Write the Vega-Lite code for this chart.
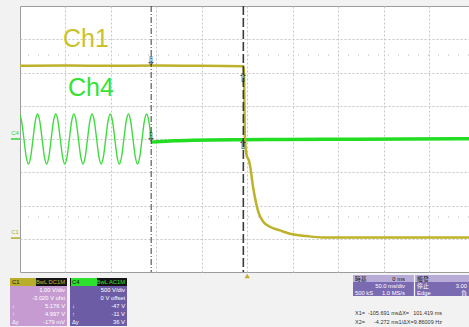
{
  "$schema": "https://vega.github.io/schema/vega-lite/v6.json",
  "width": 449,
  "height": 266,
  "autosize": {"type": "none"},
  "padding": {"left": 20, "top": 6, "right": 0, "bottom": 55},
  "background": "#f2f2f2",
  "config": {"view": {"fill": "#ffffff", "stroke": "#9c9c9c", "strokeWidth": 1}, "font": "Liberation Sans"},
  "datasets": {
    "ch1": [
      {"t": -250, "v": 5.18}, {"t": -200, "v": 5.19}, {"t": -150, "v": 5.18}, {"t": -100, "v": 5.19},
      {"t": -50, "v": 5.18}, {"t": -3.8, "v": 5.17}, {"t": -2.5, "v": 3.0}, {"t": -0.6, "v": 2.48},
      {"t": 1.9, "v": 2.33}, {"t": 3.0, "v": 2.19}, {"t": 6.7, "v": 1.49}, {"t": 12.2, "v": 0.79},
      {"t": 17.7, "v": 0.49}, {"t": 25, "v": 0.34}, {"t": 36, "v": 0.23}, {"t": 47, "v": 0.13},
      {"t": 65.4, "v": 0.06}, {"t": 83.3, "v": 0.02}, {"t": 150, "v": 0.02}, {"t": 244, "v": 0.02}
    ],
    "ch4ac": [
      {"t": -250.7, "v": 375}, {"t": -248.2, "v": 265}, {"t": -245.7, "v": 0}, {"t": -243.2, "v": -265},
      {"t": -240.7, "v": -375}, {"t": -238.2, "v": -265}, {"t": -235.7, "v": 0}, {"t": -233.2, "v": 265},
      {"t": -230.7, "v": 375}, {"t": -228.2, "v": 265}, {"t": -225.7, "v": 0}, {"t": -223.2, "v": -265},
      {"t": -220.7, "v": -375}, {"t": -218.2, "v": -265}, {"t": -215.7, "v": 0}, {"t": -213.2, "v": 265},
      {"t": -210.7, "v": 375}, {"t": -208.2, "v": 265}, {"t": -205.7, "v": 0}, {"t": -203.2, "v": -265},
      {"t": -200.7, "v": -375}, {"t": -198.2, "v": -265}, {"t": -195.7, "v": 0}, {"t": -193.2, "v": 265},
      {"t": -190.7, "v": 375}, {"t": -188.2, "v": 265}, {"t": -185.7, "v": 0}, {"t": -183.2, "v": -265},
      {"t": -180.7, "v": -375}, {"t": -178.2, "v": -265}, {"t": -175.7, "v": 0}, {"t": -173.2, "v": 265},
      {"t": -170.7, "v": 375}, {"t": -168.2, "v": 265}, {"t": -165.7, "v": 0}, {"t": -163.2, "v": -265},
      {"t": -160.7, "v": -375}, {"t": -158.2, "v": -265}, {"t": -155.7, "v": 0}, {"t": -153.2, "v": 265},
      {"t": -150.7, "v": 375}, {"t": -148.2, "v": 265}, {"t": -145.7, "v": 0}, {"t": -143.2, "v": -265},
      {"t": -140.7, "v": -375}, {"t": -138.2, "v": -265}, {"t": -135.7, "v": 0}, {"t": -133.2, "v": 265},
      {"t": -130.7, "v": 375}, {"t": -128.2, "v": 265}, {"t": -125.7, "v": 0}, {"t": -123.2, "v": -265},
      {"t": -120.7, "v": -375}, {"t": -118.2, "v": -265}, {"t": -115.7, "v": 0}, {"t": -113.2, "v": 265},
      {"t": -110.7, "v": 375}, {"t": -108.2, "v": 265}, {"t": -105.7, "v": 0}
    ],
    "ch4off": [
      {"t": -105.7, "v": -47}, {"t": -95, "v": -38}, {"t": -80, "v": -28}, {"t": -60, "v": -20},
      {"t": -40, "v": -15}, {"t": -4.3, "v": -11}, {"t": 40, "v": -6}, {"t": 120, "v": -2}, {"t": 244, "v": 5}
    ],
    "cursors": [{"cursor": "X1", "t": -105.691}, {"cursor": "X2", "t": -4.272}],
    "chan": [
      {"box": "C1", "row": "0", "part": "C1 head", "left": "C1", "right": "BwL DC1M"},
      {"box": "C1", "row": "1", "part": "C1 body", "left": "", "right": "1.00 V/div"},
      {"box": "C1", "row": "2", "part": "C1 body", "left": "", "right": "-3.020 V ofst"},
      {"box": "C1", "row": "3", "part": "C1 body", "left": "↓", "right": "5.176 V"},
      {"box": "C1", "row": "4", "part": "C1 body", "left": "↑", "right": "4.997 V"},
      {"box": "C1", "row": "5", "part": "C1 body", "left": "Δy", "right": "-179 mV"},
      {"box": "C4", "row": "0", "part": "C4 head", "left": "C4", "right": "BwL AC1M"},
      {"box": "C4", "row": "1", "part": "C4 body", "left": "", "right": "500 V/div"},
      {"box": "C4", "row": "2", "part": "C4 body", "left": "", "right": "0 V offset"},
      {"box": "C4", "row": "3", "part": "C4 body", "left": "↓", "right": "-47 V"},
      {"box": "C4", "row": "4", "part": "C4 body", "left": "↑", "right": "-11 V"},
      {"box": "C4", "row": "5", "part": "C4 body", "left": "Δy", "right": "36 V"}
    ],
    "timebox": [
      {"box": "時基", "row": "0", "part": "head", "left": "時基", "right": "0 ms"},
      {"box": "時基", "row": "1", "part": "body", "left": "", "right": "50.0 ms/div"},
      {"box": "時基", "row": "2", "part": "body", "left": "500 kS", "right": "1.0 MS/s"},
      {"box": "觸發", "row": "0", "part": "head", "left": "觸發", "right": ""},
      {"box": "觸發", "row": "1", "part": "body", "left": "停止", "right": "3.00"},
      {"box": "觸發", "row": "2", "part": "body", "left": "Edge", "right": "負"}
    ],
    "xread": [
      {"col": "X", "row": "1", "left": "X1=", "right": "-105.691 ms"},
      {"col": "ΔX", "row": "1", "left": "ΔX=", "right": "101.419 ms"},
      {"col": "X", "row": "2", "left": "X2=", "right": "-4.272 ms"},
      {"col": "ΔX", "row": "2", "left": "1/ΔX=", "right": "9.86009 Hz"}
    ]
  },
  "data": {"values": [{}]},
  "layer": [
    {
      "data": {"name": "ch4off"},
      "mark": {"type": "line", "color": "#22dd22", "strokeWidth": 3.5, "interpolate": "monotone"},
      "encoding": {
        "x": {"field": "t", "type": "quantitative", "scale": {"domain": [-250, 244], "nice": false, "zero": false},
              "axis": {"values": [-200, -150, -100, -50, 0, 50, 100, 150, 200], "grid": true, "gridColor": "#c6c6c6", "gridDash": [2, 2], "gridWidth": 1, "labels": false, "ticks": false, "domain": false, "title": null}},
        "y": {"field": "v", "type": "quantitative", "scale": {"domain": [-2000, 2000], "nice": false, "zero": false},
              "axis": {"orient": "left", "values": [-1500, -1000, -500, 0, 500, 1000, 1500], "grid": true, "gridColor": "#c6c6c6", "gridDash": [2, 2], "gridWidth": 1, "labels": false, "ticks": false, "domain": false, "title": null}}
      }
    },
    {
      "mark": {"type": "rule", "color": "#b5b5b5", "strokeDash": [1, 9], "strokeWidth": 1},
      "encoding": {"y": {"datum": 1263, "type": "quantitative", "scale": {"domain": [-2000, 2000], "nice": false, "zero": false}, "axis": null}}
    },
    {
      "mark": {"type": "rule", "color": "#b5b5b5", "strokeDash": [1, 9], "strokeWidth": 1},
      "encoding": {"y": {"datum": -1173, "type": "quantitative", "scale": {"domain": [-2000, 2000], "nice": false, "zero": false}, "axis": null}}
    },
    {
      "data": {"name": "ch4ac"},
      "mark": {"type": "line", "color": "#3fdc3f", "strokeWidth": 1.4, "interpolate": "monotone", "clip": true},
      "encoding": {
        "x": {"field": "t", "type": "quantitative", "scale": {"domain": [-250, 244], "nice": false, "zero": false}, "axis": null},
        "y": {"field": "v", "type": "quantitative", "scale": {"domain": [-2000, 2000], "nice": false, "zero": false}, "axis": null}
      }
    },
    {
      "data": {"name": "ch1"},
      "mark": {"type": "line", "color": "#bdb22a", "strokeWidth": 2.5, "interpolate": "monotone"},
      "encoding": {
        "x": {"field": "t", "type": "quantitative", "scale": {"domain": [-250, 244], "nice": false, "zero": false}, "axis": null},
        "y": {"field": "v", "type": "quantitative", "scale": {"domain": [-1.02, 6.98], "nice": false, "zero": false}, "axis": null}
      }
    },
    {
      "data": {"name": "cursors"},
      "mark": {"type": "rule", "color": "#3a3a3a"},
      "encoding": {
        "x": {"field": "t", "type": "quantitative", "scale": {"domain": [-250, 244], "nice": false, "zero": false}, "axis": null},
        "strokeDash": {"field": "cursor", "type": "nominal", "scale": {"domain": ["X1", "X2"], "range": [[6, 2, 1, 2], [9, 3]]}, "legend": null},
        "strokeWidth": {"field": "cursor", "type": "ordinal", "scale": {"domain": ["X1", "X2"], "range": [1, 1.6]}, "legend": null}
      }
    },
    {
      "mark": {"type": "text", "text": "⇩", "font": "DejaVu Sans", "fontSize": 12, "color": "#333333", "align": "center", "baseline": "middle", "dy": -5},
      "encoding": {
        "x": {"datum": -105.691, "type": "quantitative", "scale": {"domain": [-250, 244], "nice": false, "zero": false}, "axis": null},
        "y": {"datum": 5.18, "type": "quantitative", "scale": {"domain": [-1.02, 6.98], "nice": false, "zero": false}, "axis": null}
      }
    },
    {
      "mark": {"type": "text", "text": "⇩", "font": "DejaVu Sans", "fontSize": 12, "color": "#333333", "align": "center", "baseline": "middle", "dy": -5.5},
      "encoding": {
        "x": {"datum": -105.691, "type": "quantitative", "scale": {"domain": [-250, 244], "nice": false, "zero": false}, "axis": null},
        "y": {"datum": -47, "type": "quantitative", "scale": {"domain": [-2000, 2000], "nice": false, "zero": false}, "axis": null}
      }
    },
    {
      "mark": {"type": "text", "text": "⇧", "font": "DejaVu Sans", "fontSize": 12, "color": "#333333", "align": "center", "baseline": "middle", "dy": 12},
      "encoding": {
        "x": {"datum": -4.272, "type": "quantitative", "scale": {"domain": [-250, 244], "nice": false, "zero": false}, "axis": null},
        "y": {"datum": 5.18, "type": "quantitative", "scale": {"domain": [-1.02, 6.98], "nice": false, "zero": false}, "axis": null}
      }
    },
    {
      "mark": {"type": "text", "text": "⇧", "font": "DejaVu Sans", "fontSize": 12, "color": "#333333", "align": "center", "baseline": "middle", "dy": 5},
      "encoding": {
        "x": {"datum": -4.272, "type": "quantitative", "scale": {"domain": [-250, 244], "nice": false, "zero": false}, "axis": null},
        "y": {"datum": -11, "type": "quantitative", "scale": {"domain": [-2000, 2000], "nice": false, "zero": false}, "axis": null}
      }
    },
    {
      "mark": {"type": "point", "shape": "triangle-up", "size": 30, "filled": true, "color": "#c0b030", "opacity": 1, "yOffset": 4, "clip": false},
      "encoding": {
        "x": {"datum": 0, "type": "quantitative", "scale": {"domain": [-250, 244], "nice": false, "zero": false}, "axis": null},
        "y": {"datum": -2000, "type": "quantitative", "scale": {"domain": [-2000, 2000], "nice": false, "zero": false}, "axis": null}
      }
    },
    {
      "mark": {"type": "text", "text": "Ch1", "fontSize": 25, "color": "#cbc22b", "align": "left", "baseline": "alphabetic", "font": "Liberation Sans"},
      "encoding": {
        "x": {"datum": -202.7, "type": "quantitative", "scale": {"domain": [-250, 244], "nice": false, "zero": false}, "axis": null},
        "y": {"datum": 5.75, "type": "quantitative", "scale": {"domain": [-1.02, 6.98], "nice": false, "zero": false}, "axis": null}
      }
    },
    {
      "mark": {"type": "text", "text": "Ch4", "fontSize": 25, "color": "#33e333", "align": "left", "baseline": "alphabetic", "font": "Liberation Sans"},
      "encoding": {
        "x": {"datum": -197.2, "type": "quantitative", "scale": {"domain": [-250, 244], "nice": false, "zero": false}, "axis": null},
        "y": {"datum": 647, "type": "quantitative", "scale": {"domain": [-2000, 2000], "nice": false, "zero": false}, "axis": null}
      }
    },
    {
      "mark": {"type": "text", "text": "C4", "fontSize": 6, "color": "#2ed82e", "align": "center", "baseline": "middle", "dy": -6},
      "encoding": {
        "x": {"datum": -255.5, "type": "quantitative", "scale": {"domain": [-250, 244], "nice": false, "zero": false}, "axis": null},
        "y": {"datum": 0, "type": "quantitative", "scale": {"domain": [-2000, 2000], "nice": false, "zero": false}, "axis": null}
      }
    },
    {
      "mark": {"type": "rule", "color": "#2ed82e", "strokeWidth": 1.5},
      "encoding": {
        "x": {"datum": -260, "type": "quantitative", "scale": {"domain": [-250, 244], "nice": false, "zero": false}, "axis": null},
        "x2": {"datum": -250},
        "y": {"datum": 0, "type": "quantitative", "scale": {"domain": [-2000, 2000], "nice": false, "zero": false}, "axis": null}
      }
    },
    {
      "mark": {"type": "text", "text": "C1", "fontSize": 6, "color": "#b5aa28", "align": "center", "baseline": "middle", "dy": -6},
      "encoding": {
        "x": {"datum": -255.5, "type": "quantitative", "scale": {"domain": [-250, 244], "nice": false, "zero": false}, "axis": null},
        "y": {"datum": 0, "type": "quantitative", "scale": {"domain": [-1.02, 6.98], "nice": false, "zero": false}, "axis": null}
      }
    },
    {
      "mark": {"type": "rule", "color": "#b5aa28", "strokeWidth": 1.5},
      "encoding": {
        "x": {"datum": -260, "type": "quantitative", "scale": {"domain": [-250, 244], "nice": false, "zero": false}, "axis": null},
        "x2": {"datum": -250},
        "y": {"datum": 0, "type": "quantitative", "scale": {"domain": [-1.02, 6.98], "nice": false, "zero": false}, "axis": null}
      }
    },
    {
      "data": {"name": "chan"},
      "mark": {"type": "rect"},
      "encoding": {
        "x": {"field": "box", "type": "nominal", "scale": {"type": "band", "domain": ["C1", "C4"], "range": [-10, 107], "paddingInner": 0.05, "paddingOuter": 0}, "axis": null},
        "y": {"field": "row", "type": "ordinal", "scale": {"type": "band", "domain": ["0", "1", "2", "3", "4", "5"], "range": [272, 320], "paddingInner": 0, "paddingOuter": 0}, "axis": null},
        "color": {"field": "part", "type": "nominal", "scale": {"domain": ["C1 head", "C1 body", "C4 head", "C4 body"], "range": ["#141414", "#c59bd1", "#141414", "#6c5ca6"]}, "legend": null}
      }
    },
    {
      "data": {"name": "chan"},
      "transform": [{"filter": "datum.row === '0'"}],
      "mark": {"type": "rect"},
      "encoding": {
        "x": {"field": "box", "type": "nominal", "scale": {"type": "band", "domain": ["C1", "C4"], "range": [-10, 77], "paddingInner": 0.574, "paddingOuter": 0}, "axis": null},
        "y": {"field": "row", "type": "ordinal", "scale": {"type": "band", "domain": ["0", "1", "2", "3", "4", "5"], "range": [272, 320], "paddingInner": 0, "paddingOuter": 0}, "axis": null},
        "color": {"field": "box", "type": "nominal", "scale": {"domain": ["C1", "C4"], "range": ["#b9ae2c", "#2ee02e"]}, "legend": null}
      }
    },
    {
      "data": {"name": "chan"},
      "mark": {"type": "text", "align": "left", "dx": 2, "fontSize": 5.8, "baseline": "middle", "font": "Liberation Sans"},
      "encoding": {
        "x": {"field": "box", "type": "nominal", "bandPosition": 0, "scale": {"type": "band", "domain": ["C1", "C4"], "range": [-10, 107], "paddingInner": 0.05, "paddingOuter": 0}, "axis": null},
        "y": {"field": "row", "type": "ordinal", "bandPosition": 0.5, "scale": {"type": "band", "domain": ["0", "1", "2", "3", "4", "5"], "range": [272, 320], "paddingInner": 0, "paddingOuter": 0}, "axis": null},
        "text": {"field": "left"},
        "color": {"field": "part", "type": "nominal", "scale": {"domain": ["C1 head", "C1 body", "C4 head", "C4 body"], "range": ["#111111", "#ffffff", "#111111", "#ffffff"]}, "legend": null}
      }
    },
    {
      "data": {"name": "chan"},
      "mark": {"type": "text", "align": "right", "dx": -2, "fontSize": 5.8, "baseline": "middle", "font": "Liberation Sans"},
      "encoding": {
        "x": {"field": "box", "type": "nominal", "bandPosition": 1, "scale": {"type": "band", "domain": ["C1", "C4"], "range": [-10, 107], "paddingInner": 0.05, "paddingOuter": 0}, "axis": null},
        "y": {"field": "row", "type": "ordinal", "bandPosition": 0.5, "scale": {"type": "band", "domain": ["0", "1", "2", "3", "4", "5"], "range": [272, 320], "paddingInner": 0, "paddingOuter": 0}, "axis": null},
        "text": {"field": "right"},
        "color": {"field": "part", "type": "nominal", "scale": {"domain": ["C1 head", "C1 body", "C4 head", "C4 body"], "range": ["#c2b633", "#ffffff", "#38e038", "#ffffff"]}, "legend": null}
      }
    },
    {
      "data": {"name": "timebox"},
      "mark": {"type": "rect"},
      "encoding": {
        "x": {"field": "box", "type": "nominal", "scale": {"type": "band", "domain": ["時基", "觸發"], "range": [333, 456], "paddingInner": 0.02, "paddingOuter": 0}, "axis": null},
        "y": {"field": "row", "type": "ordinal", "scale": {"type": "band", "domain": ["0", "1", "2"], "range": [269, 290], "paddingInner": 0, "paddingOuter": 0}, "axis": null},
        "color": {"field": "part", "type": "nominal", "scale": {"domain": ["head", "body"], "range": ["#b8abd8", "#7a6ab2"]}, "legend": null}
      }
    },
    {
      "data": {"name": "timebox"},
      "mark": {"type": "text", "align": "left", "dx": 2, "fontSize": 5.8, "baseline": "middle", "font": "Liberation Sans, Noto Sans CJK TC"},
      "encoding": {
        "x": {"field": "box", "type": "nominal", "bandPosition": 0, "scale": {"type": "band", "domain": ["時基", "觸發"], "range": [333, 456], "paddingInner": 0.02, "paddingOuter": 0}, "axis": null},
        "y": {"field": "row", "type": "ordinal", "bandPosition": 0.5, "scale": {"type": "band", "domain": ["0", "1", "2"], "range": [269, 290], "paddingInner": 0, "paddingOuter": 0}, "axis": null},
        "text": {"field": "left"},
        "color": {"field": "part", "type": "nominal", "scale": {"domain": ["head", "body"], "range": ["#111111", "#ffffff"]}, "legend": null}
      }
    },
    {
      "data": {"name": "timebox"},
      "mark": {"type": "text", "align": "right", "dx": -9, "fontSize": 5.8, "baseline": "middle", "font": "Liberation Sans, Noto Sans CJK TC"},
      "encoding": {
        "x": {"field": "box", "type": "nominal", "bandPosition": 1, "scale": {"type": "band", "domain": ["時基", "觸發"], "range": [333, 456], "paddingInner": 0.02, "paddingOuter": 0}, "axis": null},
        "y": {"field": "row", "type": "ordinal", "bandPosition": 0.5, "scale": {"type": "band", "domain": ["0", "1", "2"], "range": [269, 290], "paddingInner": 0, "paddingOuter": 0}, "axis": null},
        "text": {"field": "right"},
        "color": {"field": "part", "type": "nominal", "scale": {"domain": ["head", "body"], "range": ["#111111", "#ffffff"]}, "legend": null}
      }
    },
    {
      "data": {"name": "xread"},
      "mark": {"type": "text", "align": "left", "fontSize": 5.5, "baseline": "middle", "color": "#333333", "font": "Liberation Sans"},
      "encoding": {
        "x": {"field": "col", "type": "nominal", "bandPosition": 0, "scale": {"type": "band", "domain": ["X", "ΔX"], "range": [335, 422], "paddingInner": 0, "paddingOuter": 0}, "axis": null},
        "y": {"field": "row", "type": "ordinal", "bandPosition": 0.5, "scale": {"type": "band", "domain": ["1", "2"], "range": [302, 320], "paddingInner": 0, "paddingOuter": 0}, "axis": null},
        "text": {"field": "left"}
      }
    },
    {
      "data": {"name": "xread"},
      "mark": {"type": "text", "align": "right", "fontSize": 5.5, "baseline": "middle", "color": "#333333", "font": "Liberation Sans"},
      "encoding": {
        "x": {"field": "col", "type": "nominal", "bandPosition": 1, "scale": {"type": "band", "domain": ["X", "ΔX"], "range": [335, 422], "paddingInner": 0, "paddingOuter": 0}, "axis": null},
        "y": {"field": "row", "type": "ordinal", "bandPosition": 0.5, "scale": {"type": "band", "domain": ["1", "2"], "range": [302, 320], "paddingInner": 0, "paddingOuter": 0}, "axis": null},
        "text": {"field": "right"}
      }
    }
  ],
  "resolve": {
    "scale": {"x": "independent", "y": "independent", "color": "independent", "strokeDash": "independent", "strokeWidth": "independent"},
    "axis": {"x": "independent", "y": "independent"}
  }
}
